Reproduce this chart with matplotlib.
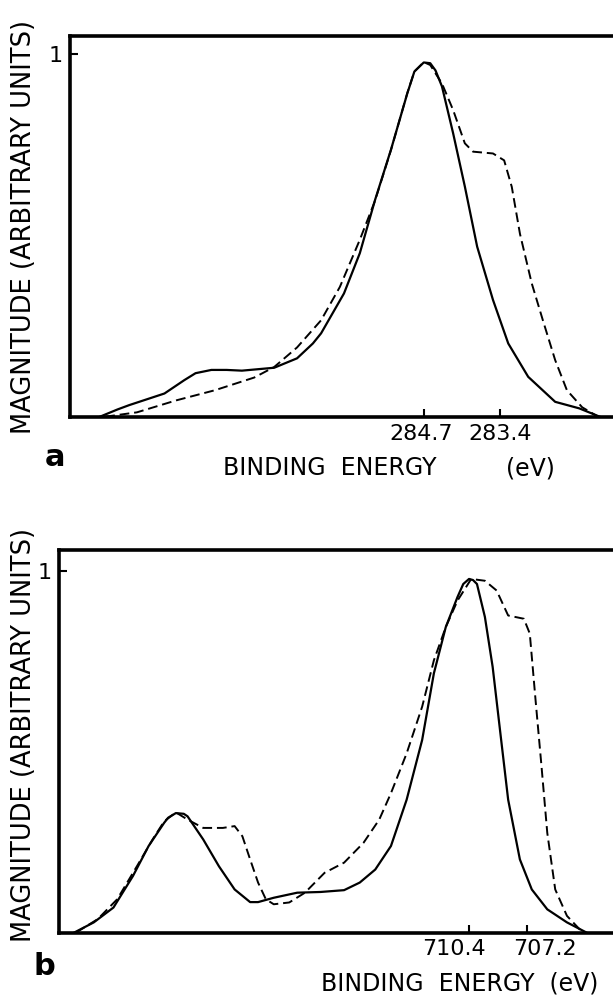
import matplotlib
matplotlib.use("Agg")
import matplotlib.pyplot as plt
from matplotlib.transforms import ScaledTranslation

# panel a: C 1s
a_solid_ev = [290.22, 289.92, 289.72, 289.12, 288.78, 288.59, 288.32, 288.06, 287.80, 287.25,
              286.86, 286.59, 286.45, 286.06, 285.79, 285.53, 285.26, 284.98, 284.86, 284.70,
              284.59, 284.50, 284.39, 284.20, 284.00, 283.79, 283.52, 283.26, 282.92, 282.46,
              282.05, 281.70]
a_solid_mag = [0.0, 0.020, 0.032, 0.064, 0.101, 0.120, 0.129, 0.129, 0.127, 0.135,
               0.161, 0.202, 0.230, 0.340, 0.451, 0.598, 0.736, 0.892, 0.952, 0.977,
               0.975, 0.955, 0.911, 0.782, 0.635, 0.469, 0.322, 0.202, 0.110, 0.041,
               0.023, 0.0]
a_dash_ev = [290.13, 289.59, 288.92, 288.26, 287.59, 287.25, 286.86, 286.45, 286.13, 285.79,
             285.53, 285.26, 284.98, 284.86, 284.70, 284.59, 284.39, 284.20, 284.00, 283.86,
             283.52, 283.33, 283.20, 283.06, 282.86, 282.67, 282.46, 282.26, 282.00, 281.73]
a_dash_mag = [0.0, 0.012, 0.045, 0.073, 0.108, 0.137, 0.191, 0.266, 0.358, 0.488,
              0.596, 0.735, 0.893, 0.952, 0.978, 0.970, 0.919, 0.846, 0.754, 0.731,
              0.726, 0.707, 0.634, 0.504, 0.368, 0.266, 0.156, 0.073, 0.026, 0.0]
a_ticks = [284.7, 283.4]
a_ticklabels = ["284.7", "283.4"]

# panel b: Fe 2p
b_solid_ev = [732.29, 731.21, 730.12, 729.04, 728.17, 727.31, 727.09, 726.66, 726.22, 726.01,
              725.14, 724.27, 723.40, 722.54, 722.10, 721.23, 719.93, 718.63, 717.33, 716.46,
              715.60, 714.73, 713.86, 713.00, 712.35, 711.69, 711.04, 710.72, 710.40, 710.18,
              709.96, 709.52, 709.09, 708.66, 708.23, 707.58, 706.92, 706.06, 704.97, 703.89]
b_solid_mag = [0.0, 0.028, 0.069, 0.156, 0.239, 0.303, 0.317, 0.330, 0.328, 0.321,
               0.257, 0.183, 0.119, 0.084, 0.084, 0.096, 0.110, 0.112, 0.117, 0.138,
               0.174, 0.239, 0.367, 0.532, 0.716, 0.844, 0.927, 0.963, 0.977, 0.974,
               0.963, 0.872, 0.734, 0.550, 0.367, 0.202, 0.119, 0.064, 0.028, 0.0]
b_dash_ev = [732.19, 730.99, 729.91, 728.82, 727.95, 727.31, 726.66, 726.01, 725.14, 724.05,
             723.40, 722.97, 722.54, 722.10, 721.67, 721.23, 720.37, 719.50, 718.41, 717.33,
             716.25, 715.38, 714.73, 713.86, 713.00, 712.35, 711.69, 711.04, 710.28, 709.52,
             708.87, 708.23, 707.36, 707.03, 706.71, 706.38, 706.06, 705.62, 704.97, 704.10]
b_dash_mag = [0.0, 0.037, 0.092, 0.183, 0.257, 0.307, 0.332, 0.312, 0.289, 0.289,
              0.294, 0.266, 0.202, 0.138, 0.092, 0.078, 0.083, 0.110, 0.165, 0.193,
              0.248, 0.312, 0.385, 0.495, 0.624, 0.752, 0.844, 0.917, 0.977, 0.972,
              0.945, 0.876, 0.867, 0.826, 0.642, 0.459, 0.275, 0.119, 0.046, 0.0]
b_ticks = [710.4, 707.2]
b_ticklabels = ["710.4", "707.2"]

W, H = 613, 996
fig = plt.figure(figsize=(W / 100, H / 100), dpi=100)


def px_axes(left, top, right, bottom):
	return fig.add_axes([left / W, 1 - bottom / H, (right - left) / W, (bottom - top) / H])


def style(ax, ticks, labels, xlim, ytop, shifts):
	ax.set_xlim(*xlim)
	ax.set_ylim(0, ytop)
	for s in ax.spines.values():
		s.set_linewidth(2.6)
	ax.set_xticks(ticks)
	ax.set_xticklabels(labels, fontsize=16)
	ax.set_yticks([1])
	ax.set_yticklabels(["1"], fontsize=16)
	ax.tick_params(direction="in", length=6, width=1.5, pad=5)
	for lab, dx in zip(ax.get_xticklabels(), shifts):
		lab.set_transform(lab.get_transform() + ScaledTranslation(dx / 100, 0, fig.dpi_scale_trans))


line_kw = dict(color="black", solid_joinstyle="round", dash_joinstyle="round")

ax1 = px_axes(70, 36, 625, 416.7)
ax1.plot(a_solid_ev, a_solid_mag, lw=1.6, **line_kw)
ax1.plot(a_dash_ev, a_dash_mag, lw=1.4, dashes=(5, 2.5), **line_kw)
style(ax1, a_ticks, a_ticklabels, (290.73, 281.27), 1.05, [-3, 0])

ax2 = px_axes(59, 550, 625, 932.5)
ax2.plot(b_solid_ev, b_solid_mag, lw=1.6, **line_kw)
ax2.plot(b_dash_ev, b_dash_mag, lw=1.4, dashes=(5, 2.5), **line_kw)
style(ax2, b_ticks, b_ticklabels, (733.14, 701.75), 1.057, [-15, 18])

ylab = "MAGNITUDE (ARBITRARY UNITS)"
fig.text(24 / W, 1 - 227 / H, ylab, rotation=90, ha="center", va="center", fontsize=18.5)
fig.text(24 / W, 1 - 735 / H, ylab, rotation=90, ha="center", va="center", fontsize=18.5)

fig.text(55 / W, 1 - 457 / H, "a", ha="center", va="center", fontsize=22, fontweight="bold")
fig.text(44 / W, 1 - 966 / H, "b", ha="center", va="center", fontsize=22, fontweight="bold")

fig.text(223 / W, 1 - 468 / H, "BINDING  ENERGY", ha="left", va="center", fontsize=17)
fig.text(530 / W, 1 - 468 / H, "(eV)", ha="center", va="center", fontsize=17)
fig.text(321 / W, 1 - 983 / H, "BINDING  ENERGY  (eV)", ha="left", va="center", fontsize=17)

fig.savefig("out.png", dpi=100)
